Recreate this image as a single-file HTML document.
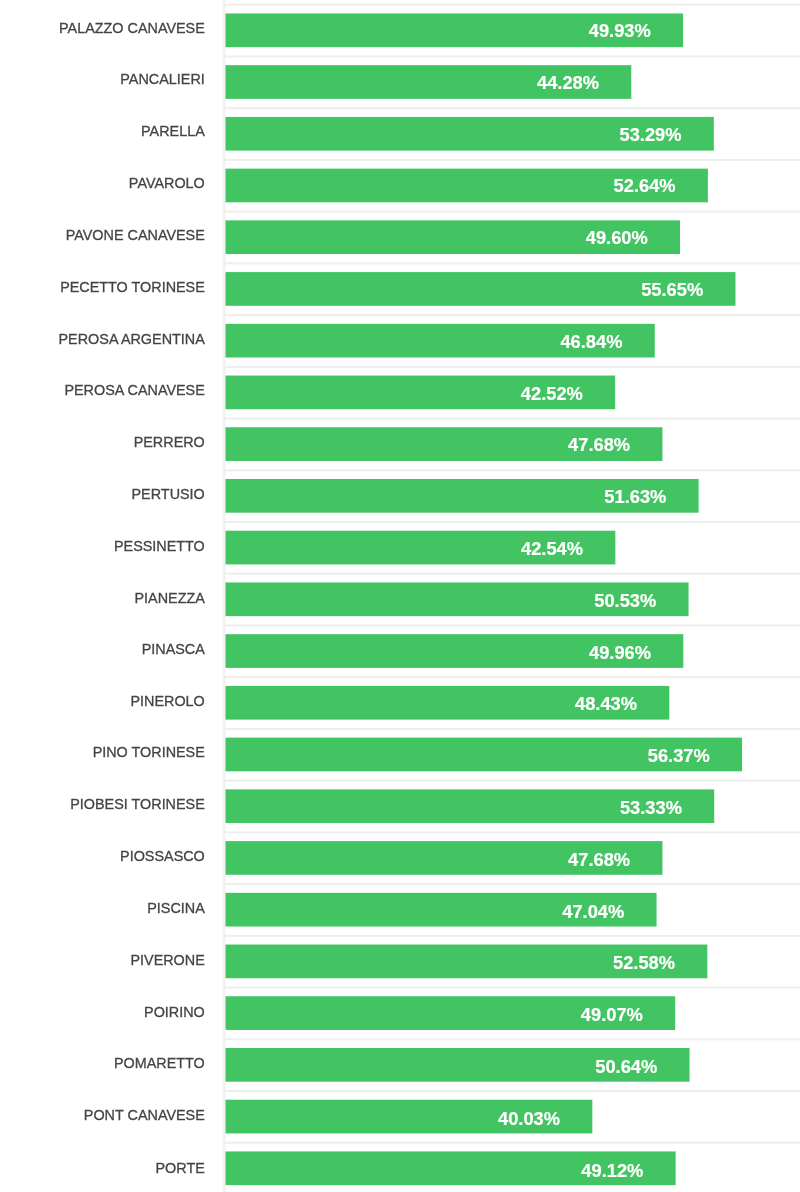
<!DOCTYPE html>
<html lang="it"><head><meta charset="utf-8"><title>Affluenza</title>
<style>
html,body{margin:0;padding:0;background:#fff;}
body{width:800px;height:1192px;overflow:hidden;}
svg{display:block;font-family:"Liberation Sans",Arial,Helvetica,sans-serif;}
.g{fill:#eeeeee;}
.ax{fill:#f1f1f1;}
.b{fill:#43c462;}
.l{font-size:15.4px;fill:#444444;stroke:#444444;stroke-width:0.3px;text-anchor:end;}
.v{font-size:18.3px;font-weight:bold;fill:#fff;stroke:#fff;stroke-width:0.2px;text-anchor:end;}
</style></head><body>
<svg width="800" height="1192" viewBox="0 0 800 1192">
<defs><filter id="soft" filterUnits="userSpaceOnUse" x="-20" y="-20" width="840" height="1232" color-interpolation-filters="sRGB"><feGaussianBlur stdDeviation="0.45"/></filter></defs>
<rect x="0" y="0" width="800" height="1192" fill="#ffffff"/>
<g filter="url(#soft)">
<rect x="-20" y="-20" width="840" height="1232" fill="#ffffff"/>
<rect class="ax" x="222.70" y="-10" width="2.8" height="1212"/>

<rect class="g" x="224.10" y="3.75" width="587.90" height="2.0"/>
<rect class="b" x="225.50" y="13.45" width="457.56" height="33.7"/>
<text class="l" transform="translate(204.80 32.60) scale(0.935 1)">PALAZZO CANAVESE</text>
<text class="v" transform="translate(650.76 37.05) scale(1.0 1)">49.93%</text>
<rect class="g" x="224.10" y="55.48" width="587.90" height="2.0"/>
<rect class="b" x="225.50" y="65.18" width="405.78" height="33.7"/>
<text class="l" transform="translate(204.80 84.42) scale(0.935 1)">PANCALIERI</text>
<text class="v" transform="translate(598.98 88.85) scale(1.0 1)">44.28%</text>
<rect class="g" x="224.10" y="107.20" width="587.90" height="2.0"/>
<rect class="b" x="225.50" y="116.90" width="488.35" height="33.7"/>
<text class="l" transform="translate(204.80 136.24) scale(0.935 1)">PARELLA</text>
<text class="v" transform="translate(681.55 140.65) scale(1.0 1)">53.29%</text>
<rect class="g" x="224.10" y="158.93" width="587.90" height="2.0"/>
<rect class="b" x="225.50" y="168.63" width="482.39" height="33.7"/>
<text class="l" transform="translate(204.80 188.06) scale(0.935 1)">PAVAROLO</text>
<text class="v" transform="translate(675.59 192.45) scale(1.0 1)">52.64%</text>
<rect class="g" x="224.10" y="210.66" width="587.90" height="2.0"/>
<rect class="b" x="225.50" y="220.36" width="454.53" height="33.7"/>
<text class="l" transform="translate(204.80 239.88) scale(0.935 1)">PAVONE CANAVESE</text>
<text class="v" transform="translate(647.73 244.25) scale(1.0 1)">49.60%</text>
<rect class="g" x="224.10" y="262.38" width="587.90" height="2.0"/>
<rect class="b" x="225.50" y="272.08" width="509.98" height="33.7"/>
<text class="l" transform="translate(204.80 291.70) scale(0.935 1)">PECETTO TORINESE</text>
<text class="v" transform="translate(703.18 296.05) scale(1.0 1)">55.65%</text>
<rect class="g" x="224.10" y="314.11" width="587.90" height="2.0"/>
<rect class="b" x="225.50" y="323.81" width="429.24" height="33.7"/>
<text class="l" transform="translate(204.80 343.52) scale(0.935 1)">PEROSA ARGENTINA</text>
<text class="v" transform="translate(622.44 347.85) scale(1.0 1)">46.84%</text>
<rect class="g" x="224.10" y="365.84" width="587.90" height="2.0"/>
<rect class="b" x="225.50" y="375.54" width="389.65" height="33.7"/>
<text class="l" transform="translate(204.80 395.34) scale(0.935 1)">PEROSA CANAVESE</text>
<text class="v" transform="translate(582.85 399.65) scale(1.0 1)">42.52%</text>
<rect class="g" x="224.10" y="417.57" width="587.90" height="2.0"/>
<rect class="b" x="225.50" y="427.27" width="436.94" height="33.7"/>
<text class="l" transform="translate(204.80 447.16) scale(0.935 1)">PERRERO</text>
<text class="v" transform="translate(630.14 451.45) scale(1.0 1)">47.68%</text>
<rect class="g" x="224.10" y="469.29" width="587.90" height="2.0"/>
<rect class="b" x="225.50" y="478.99" width="473.14" height="33.7"/>
<text class="l" transform="translate(204.80 498.98) scale(0.935 1)">PERTUSIO</text>
<text class="v" transform="translate(666.34 503.25) scale(1.0 1)">51.63%</text>
<rect class="g" x="224.10" y="521.02" width="587.90" height="2.0"/>
<rect class="b" x="225.50" y="530.72" width="389.84" height="33.7"/>
<text class="l" transform="translate(204.80 550.80) scale(0.935 1)">PESSINETTO</text>
<text class="v" transform="translate(583.04 555.05) scale(1.0 1)">42.54%</text>
<rect class="g" x="224.10" y="572.75" width="587.90" height="2.0"/>
<rect class="b" x="225.50" y="582.45" width="463.06" height="33.7"/>
<text class="l" transform="translate(204.80 602.62) scale(0.935 1)">PIANEZZA</text>
<text class="v" transform="translate(656.26 606.85) scale(1.0 1)">50.53%</text>
<rect class="g" x="224.10" y="624.47" width="587.90" height="2.0"/>
<rect class="b" x="225.50" y="634.17" width="457.83" height="33.7"/>
<text class="l" transform="translate(204.80 654.44) scale(0.935 1)">PINASCA</text>
<text class="v" transform="translate(651.03 658.65) scale(1.0 1)">49.96%</text>
<rect class="g" x="224.10" y="676.20" width="587.90" height="2.0"/>
<rect class="b" x="225.50" y="685.90" width="443.81" height="33.7"/>
<text class="l" transform="translate(204.80 705.66) scale(0.935 1)">PINEROLO</text>
<text class="v" transform="translate(637.01 710.45) scale(1.0 1)">48.43%</text>
<rect class="g" x="224.10" y="727.93" width="587.90" height="2.0"/>
<rect class="b" x="225.50" y="737.63" width="516.57" height="33.7"/>
<text class="l" transform="translate(204.80 757.48) scale(0.935 1)">PINO TORINESE</text>
<text class="v" transform="translate(709.77 762.25) scale(1.0 1)">56.37%</text>
<rect class="g" x="224.10" y="779.65" width="587.90" height="2.0"/>
<rect class="b" x="225.50" y="789.36" width="488.72" height="33.7"/>
<text class="l" transform="translate(204.80 809.30) scale(0.935 1)">PIOBESI TORINESE</text>
<text class="v" transform="translate(681.92 814.05) scale(1.0 1)">53.33%</text>
<rect class="g" x="224.10" y="831.38" width="587.90" height="2.0"/>
<rect class="b" x="225.50" y="841.08" width="436.94" height="33.7"/>
<text class="l" transform="translate(204.80 861.12) scale(0.935 1)">PIOSSASCO</text>
<text class="v" transform="translate(630.14 865.85) scale(1.0 1)">47.68%</text>
<rect class="g" x="224.10" y="883.11" width="587.90" height="2.0"/>
<rect class="b" x="225.50" y="892.81" width="431.07" height="33.7"/>
<text class="l" transform="translate(204.80 912.94) scale(0.935 1)">PISCINA</text>
<text class="v" transform="translate(624.27 917.65) scale(1.0 1)">47.04%</text>
<rect class="g" x="224.10" y="934.84" width="587.90" height="2.0"/>
<rect class="b" x="225.50" y="944.54" width="481.84" height="33.7"/>
<text class="l" transform="translate(204.80 964.76) scale(0.935 1)">PIVERONE</text>
<text class="v" transform="translate(675.04 969.45) scale(1.0 1)">52.58%</text>
<rect class="g" x="224.10" y="986.56" width="587.90" height="2.0"/>
<rect class="b" x="225.50" y="996.26" width="449.68" height="33.7"/>
<text class="l" transform="translate(204.80 1016.58) scale(0.935 1)">POIRINO</text>
<text class="v" transform="translate(642.88 1021.25) scale(1.0 1)">49.07%</text>
<rect class="g" x="224.10" y="1038.29" width="587.90" height="2.0"/>
<rect class="b" x="225.50" y="1047.99" width="464.06" height="33.7"/>
<text class="l" transform="translate(204.80 1068.40) scale(0.935 1)">POMARETTO</text>
<text class="v" transform="translate(657.26 1073.05) scale(1.0 1)">50.64%</text>
<rect class="g" x="224.10" y="1090.02" width="587.90" height="2.0"/>
<rect class="b" x="225.50" y="1099.72" width="366.83" height="33.7"/>
<text class="l" transform="translate(204.80 1120.22) scale(0.935 1)">PONT CANAVESE</text>
<text class="v" transform="translate(560.03 1124.85) scale(1.0 1)">40.03%</text>
<rect class="g" x="224.10" y="1141.74" width="587.90" height="2.0"/>
<rect class="b" x="225.50" y="1151.44" width="450.14" height="33.7"/>
<text class="l" transform="translate(204.80 1172.64) scale(0.935 1)">PORTE</text>
<text class="v" transform="translate(643.34 1176.65) scale(1.0 1)">49.12%</text>
</g>
</svg>
</body></html>
